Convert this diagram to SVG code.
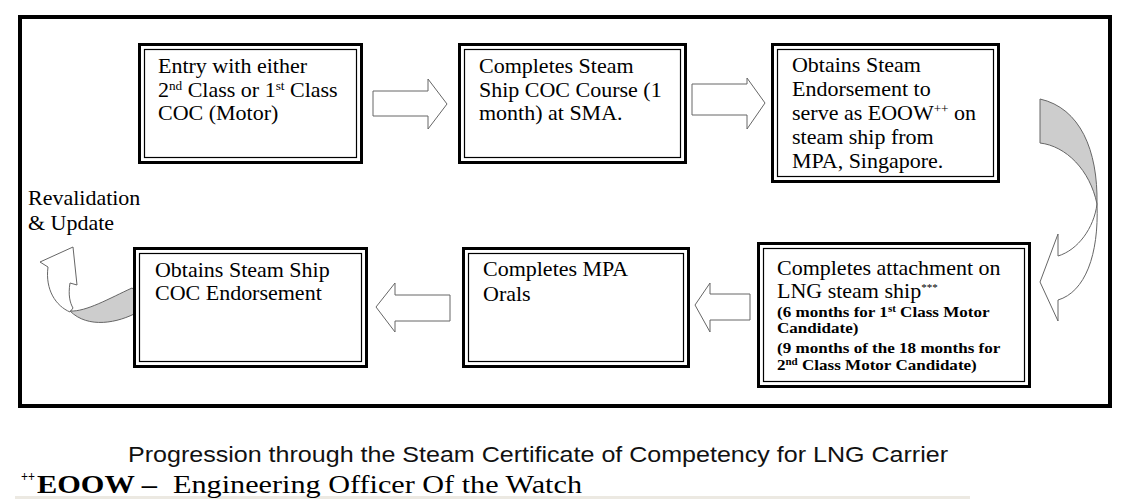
<svg xmlns="http://www.w3.org/2000/svg" width="1136" height="499" viewBox="0 0 1136 499">
<style>
.bo{fill:#fff;stroke:#000;stroke-width:3}
.bi{fill:none;stroke:#000;stroke-width:1.2}
.t{font-family:"Liberation Serif","Times New Roman",serif;font-size:20px;fill:#000}
.sb{font-family:"Liberation Serif","Times New Roman",serif;font-size:15.5px;font-weight:bold;fill:#000}
.sup{font-size:12px}
.sups{font-size:10px}
.arr{fill:#fff;stroke:#666;stroke-width:1}
.gr{fill:#cdcdcd;stroke:#666;stroke-width:1}
.cap{font-family:"Liberation Sans",Arial,sans-serif;font-size:22px;fill:#111}
.fn{font-family:"Liberation Serif","Times New Roman",serif;font-size:26px;fill:#000}
</style>
<rect width="1136" height="499" fill="#fff"/>
<rect x="20" y="17" width="1090" height="389" fill="#fff" stroke="#000" stroke-width="4"/>

<g id="connectors">
  <path class="arr" d="M373,91 H428 V79 L447,104 L428,129 V116 H373 Z"/>
  <path class="arr" d="M692,84 H747 V78 L765,103 L747,129 V115 H692 Z"/>
  <path class="gr" d="M1040,99 C1080,108 1098,150 1097,204 C1090,170 1066,146 1040,143 Z"/>
  <path class="arr" d="M1097,204 C1094,228 1078,250 1058,256 L1058,234 L1040,282 L1058,321 L1058,300 C1085,292 1099,255 1097,204 Z"/>
  <path class="arr" d="M750,294 H710 V283 L695,305 L710,332 V320 H750 Z"/>
  <path class="arr" d="M450,295 H395 V283 L376,307 L395,332 V321 H450 Z"/>
  <path class="arr" d="M70,312 C56,306 45,290 48,267 L40,262 L73,247 L77,285 L70,283 C68,295 70,303 73,308 Z"/>
  <path class="gr" d="M70,311 C86,312 110,298 132,288 L150,302 L138,312 C118,323 88,329 70,311 Z"/>
</g>

<g id="n1">
  <rect class="bo" x="139.5" y="44.5" width="222" height="118"/>
  <rect class="bi" x="144.5" y="49.5" width="212" height="108"/>
  <text class="t" transform="matrix(1.1 0 0 1 -15.8 0)">
    <tspan x="158" y="73">Entry with either</tspan>
    <tspan x="158" y="97">2<tspan class="sup" dy="-7">nd</tspan><tspan dy="7"> Class or 1</tspan><tspan class="sup" dy="-7">st</tspan><tspan dy="7"> Class</tspan></tspan>
    <tspan x="158" y="120">COC (Motor)</tspan>
  </text>
</g>

<g id="n2">
  <rect class="bo" x="459.5" y="44.5" width="226" height="118"/>
  <rect class="bi" x="464.5" y="49.5" width="216" height="108"/>
  <text class="t" transform="matrix(1.1 0 0 1 -47.9 0)">
    <tspan x="479" y="73">Completes Steam</tspan>
    <tspan x="479" y="97">Ship COC Course (1</tspan>
    <tspan x="479" y="120">month) at SMA.</tspan>
  </text>
</g>

<g id="n3">
  <rect class="bo" x="772.5" y="44.5" width="226" height="137"/>
  <rect class="bi" x="777.5" y="49.5" width="216" height="127"/>
  <text class="t" transform="matrix(1.1 0 0 1 -79.2 0)">
    <tspan x="792" y="72">Obtains Steam</tspan>
    <tspan x="792" y="96">Endorsement to</tspan>
    <tspan x="792" y="120">serve as EOOW<tspan class="sup" dy="-7">++</tspan><tspan dy="7"> on</tspan></tspan>
    <tspan x="792" y="144">steam ship from</tspan>
    <tspan x="792" y="168">MPA, Singapore.</tspan>
  </text>
</g>

<g id="n4">
  <rect class="bo" x="758.5" y="243.5" width="271" height="143"/>
  <rect class="bi" x="763.5" y="248.5" width="261" height="133"/>
  <text class="t" transform="matrix(1.1 0 0 1 -77.7 0)">
    <tspan x="777" y="275">Completes attachment on</tspan>
    <tspan x="777" y="298">LNG steam ship<tspan class="sups" dy="-7">***</tspan></tspan>
  </text>
  <text class="sb" transform="matrix(1.1 0 0 1 -77.7 0)">
    <tspan x="777" y="317">(6 months for 1<tspan class="sups" dy="-5">st</tspan><tspan dy="5"> Class Motor</tspan></tspan>
    <tspan x="777" y="333">Candidate)</tspan>
    <tspan x="777" y="353">(9 months of the 18 months for</tspan>
    <tspan x="777" y="370">2<tspan class="sups" dy="-5">nd</tspan><tspan dy="5"> Class Motor Candidate)</tspan></tspan>
  </text>
</g>

<g id="n5">
  <rect class="bo" x="463.5" y="248.5" width="225" height="118"/>
  <rect class="bi" x="468.5" y="253.5" width="215" height="108"/>
  <text class="t" transform="matrix(1.1 0 0 1 -48.3 0)">
    <tspan x="483" y="276">Completes MPA</tspan>
    <tspan x="483" y="301">Orals</tspan>
  </text>
</g>

<g id="n6">
  <rect class="bo" x="134.5" y="248.5" width="232" height="118"/>
  <rect class="bi" x="139.5" y="253.5" width="222" height="108"/>
  <text class="t" transform="matrix(1.1 0 0 1 -15.5 0)">
    <tspan x="155" y="277">Obtains Steam Ship</tspan>
    <tspan x="155" y="300">COC Endorsement</tspan>
  </text>
</g>

<g id="revalidation">
  <text class="t" transform="matrix(1.1 0 0 1 -2.8 0)">
    <tspan x="28" y="205">Revalidation</tspan>
    <tspan x="28" y="230">&amp; Update</tspan>
  </text>
</g>

<g id="caption">
  <text class="cap" x="128" y="462" textLength="820" lengthAdjust="spacingAndGlyphs">Progression through the Steam Certificate of Competency for LNG Carrier</text>
</g>

<g id="footnote">
  <rect x="15" y="496" width="955" height="3" fill="#ece9e2"/>
  <text class="fn" x="21" y="481" style="font-size:14px;font-weight:bold" textLength="14" lengthAdjust="spacingAndGlyphs">++</text>
  <text class="fn" x="37" y="493" style="font-weight:bold" textLength="120" lengthAdjust="spacingAndGlyphs">EOOW –</text>
  <text class="fn" x="173" y="493" textLength="409" lengthAdjust="spacingAndGlyphs">Engineering Officer Of the Watch</text>
</g>
</svg>
